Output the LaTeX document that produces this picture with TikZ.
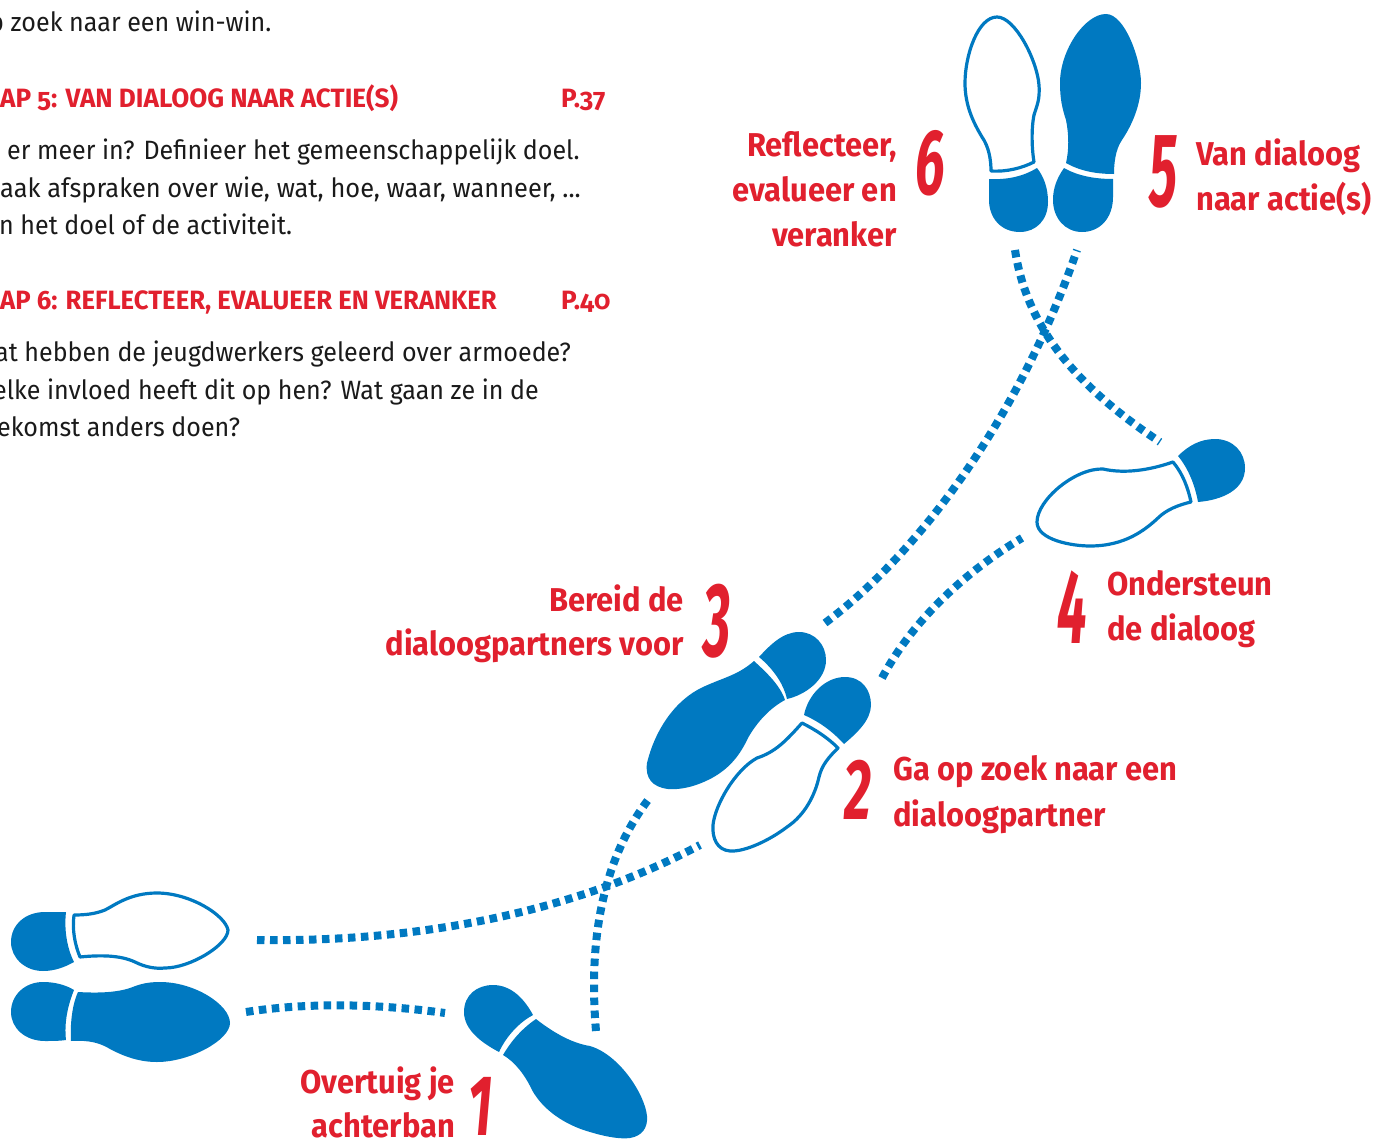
\documentclass[tikz,border=0pt]{standalone}
\usepackage{fontspec}
\setmainfont{Fira Sans}[FakeStretch=0.945,Numbers=OldStyle]
\newfontfamily\headfont{Fira Sans}[FakeStretch=0.985,Numbers=OldStyle]
\newfontfamily\labelfont{Fira Sans}[FakeStretch=0.935,Numbers=OldStyle]
\newfontfamily\digitfont{Fira Sans}[FakeStretch=0.62]
\definecolor{shoeblue}{HTML}{0079C1}
\definecolor{stepred}{HTML}{E1202E}
\definecolor{bodyink}{HTML}{1A1A1A}
\tikzset{
  solid shoe/.style={fill=shoeblue,draw=none},
  open shoe/.style={draw=shoeblue,line width=3.2pt,fill=white,line join=round},
  trail/.style={draw=shoeblue,line width=8pt,dash pattern=on 7.5pt off 5.5pt},
  body text/.style={anchor=base west,inner sep=0pt,text=bodyink,font=\fontsize{26.5}{30}\selectfont},
  head text/.style={anchor=base west,inner sep=0pt,text=stepred,font=\fontsize{26.5}{30}\selectfont\headfont\bfseries},
  label left/.style={anchor=base west,inner sep=0pt,text=stepred,font=\fontsize{33}{38}\selectfont\labelfont\bfseries},
  label right/.style={anchor=base east,inner sep=0pt,text=stepred,font=\fontsize{33}{38}\selectfont\labelfont\bfseries},
  digit/.style={anchor=center,inner sep=0pt,text=stepred,font=\fontsize{86}{90}\selectfont\digitfont\bfseries\itshape},
}
\begin{document}
\begin{tikzpicture}[x=1pt,y=-1pt]
\useasboundingbox (0,0) rectangle (1377,1140);
\clip (0,0) rectangle (1377,1140);
% page text
\node[body text] (t1) at (-11,32) {p zoek naar een win-win.};
\node[head text] (h5) at (0,107) {AP 5: VAN DIALOOG NAAR ACTIE(S)};
\node[head text] (p5) at (561,107) {P.37};
\node[body text] (t2) at (7,159) {er meer in? Definieer het gemeenschappelijk doel.};
\node[body text] (t3) at (0,197) {\scalebox{1.014}[1]{aak afspraken over wie, wat, hoe, waar, wanneer, ...}};
\node[body text] (t4) at (-1,234) {n het doel of de activiteit.};
\node[head text] (h6) at (0,309) {\scalebox{0.984}[1]{AP 6: REFLECTEER, EVALUEER EN VERANKER}};
\node[head text] (p6) at (561,309) {P.40};
\node[body text] (t5) at (-5,361) {at hebben de jeugdwerkers geleerd over armoede?};
\node[body text] (t6) at (-7,399) {elke invloed heeft dit op hen? Wat gaan ze in de};
\node[body text] (t7) at (-3,436) {ekomst anders doen?};
% trail ends
\coordinate (a1) at (596,1031); \coordinate (a2) at (648,800);
\coordinate (b1) at (246,1012); \coordinate (b2) at (445,1013);
\coordinate (c1) at (257,940);  \coordinate (c2) at (700,845);
\coordinate (d1) at (825,623);  \coordinate (d2) at (1077,250);
\coordinate (e1) at (1015,250); \coordinate (e2) at (1160,442);
\coordinate (f1) at (882,678);  \coordinate (f2) at (1022,538);
\draw[trail] (a1) .. controls (590,960) and (595,870) .. (a2);
\draw[trail] (b1) .. controls (310,1002) and (380,1004) .. (b2);
\draw[trail] (c1) .. controls (380,942) and (550,925) .. (c2);
\draw[trail] (d1) .. controls (910,560) and (1015,430) .. (d2);
\draw[trail] (e1) .. controls (1028,335) and (1085,392) .. (e2);
\draw[trail] (f1) .. controls (910,625) and (960,575) .. (f2);
% shoe 6
\draw[open shoe] (997,17) .. controls (978,17) and (965,55) .. (965,83) .. controls (965,105) and (973,122) .. (982,137) .. controls (989,147) and (991,160) .. (991,171) .. controls (1007,172) and (1022,168) .. (1034,162) .. controls (1032,150) and (1031,130) .. (1034,115) .. controls (1037,105) and (1040,100) .. (1039,85) .. controls (1037,60) and (1015,17) .. (997,17) -- cycle;
\fill[solid shoe] (989,179) .. controls (1008,180) and (1024,176) .. (1037,168) .. controls (1044,177) and (1048,188) .. (1048,202) .. controls (1048,220) and (1036,232) .. (1020,232) .. controls (1000,232) and (989,217) .. (989,200) -- cycle;
% shoe 5
\fill[solid shoe] (1106,14) .. controls (1125,14) and (1141,60) .. (1141,83) .. controls (1141,105) and (1132,125) .. (1122,140) .. controls (1115,150) and (1114,165) .. (1114,174) .. controls (1096,174) and (1080,171) .. (1066,163) .. controls (1069,150) and (1069,135) .. (1066,120) .. controls (1062,108) and (1060,98) .. (1060,83) .. controls (1060,50) and (1085,14) .. (1106,14) -- cycle;
\fill[solid shoe] (1064,168) .. controls (1078,176) and (1095,179) .. (1113,179) -- (1113,197) .. controls (1113,218) and (1100,232) .. (1082,232) .. controls (1065,232) and (1053,218) .. (1053,200) .. controls (1053,188) and (1057,178) .. (1064,168) -- cycle;
% shoe 4
\draw[open shoe] (1173,462) .. controls (1183,474) and (1188,488) .. (1191,502) .. controls (1178,505) and (1166,510) .. (1158,518) .. controls (1145,530) and (1125,546) .. (1090,546) .. controls (1072,546) and (1037,540) .. (1037,522) .. controls (1037,500) and (1075,468) .. (1103,469) .. controls (1125,474) and (1150,470) .. (1173,462) -- cycle;
\fill[solid shoe] (1178,456) .. controls (1188,446) and (1200,439) .. (1215,439) .. controls (1233,439) and (1245,452) .. (1245,468) .. controls (1245,490) and (1222,500) .. (1198,502) .. controls (1195,485) and (1188,468) .. (1178,456) -- cycle;
% shoe 3
\fill[solid shoe] (754,661) .. controls (766,672) and (780,685) .. (785,700) .. controls (770,708) and (757,722) .. (748,738) .. controls (740,755) and (730,768) .. (712,778) .. controls (695,787) and (680,790) .. (668,789) .. controls (652,787) and (645,778) .. (647,763) .. controls (655,730) and (675,700) .. (703,687) .. controls (725,677) and (738,675) .. (754,661) -- cycle;
\fill[solid shoe] (759,657) .. controls (770,645) and (783,632) .. (799,632) .. controls (815,632) and (826,645) .. (826,660) .. controls (826,680) and (805,695) .. (787,699) .. controls (783,682) and (772,668) .. (759,657) -- cycle;
% shoe 2
\draw[open shoe] (802,723) .. controls (816,730) and (828,738) .. (838,748) .. controls (828,758) and (822,765) .. (819,777) .. controls (815,795) and (805,815) .. (787,827) .. controls (770,840) and (745,852) .. (730,851) .. controls (717,850) and (712,838) .. (713,825) .. controls (715,805) and (735,770) .. (757,758) .. controls (775,752) and (785,742) .. (802,723) -- cycle;
\fill[solid shoe] (804,715) .. controls (808,695) and (825,677) .. (845,677) .. controls (862,677) and (871,690) .. (871,705) .. controls (871,720) and (857,733) .. (844,744) .. controls (833,732) and (820,722) .. (804,715) -- cycle;
% upper left shoe
\draw[open shoe] (74,915) .. controls (72,930) and (75,945) .. (80,957) .. controls (100,955) and (120,955) .. (135,962) .. controls (145,967) and (155,969) .. (165,968) .. controls (190,968) and (228,945) .. (228,930) .. controls (225,915) and (190,893) .. (157,893) .. controls (130,893) and (115,905) .. (105,910) .. controls (95,914) and (85,915) .. (74,915) -- cycle;
\fill[solid shoe] (66,912) .. controls (64,930) and (67,948) .. (74,962) .. controls (65,967) and (55,971) .. (43,971) .. controls (25,971) and (11,958) .. (11,942) .. controls (11,925) and (25,912) .. (45,912) -- cycle;
% lower left shoe
\fill[solid shoe] (78,992) .. controls (72,1005) and (70,1025) .. (71,1041) .. controls (90,1040) and (100,1043) .. (110,1049) .. controls (125,1057) and (140,1062) .. (157,1062) .. controls (190,1062) and (230,1040) .. (230,1023) .. controls (230,1005) and (195,982) .. (160,982) .. controls (145,982) and (138,985) .. (130,988) .. controls (115,993) and (95,993) .. (78,992) -- cycle;
\fill[solid shoe] (74,990) .. controls (68,1005) and (64,1022) .. (66,1040) .. controls (60,1041) and (50,1041) .. (45,1041) .. controls (25,1041) and (11,1028) .. (11,1012) .. controls (11,995) and (25,982) .. (43,982) .. controls (55,982) and (66,985) .. (74,990) -- cycle;
% shoe 1
\fill[solid shoe] (536,1019) .. controls (520,1030) and (510,1043) .. (503,1055) .. controls (515,1062) and (525,1075) .. (532,1090) .. controls (543,1110) and (565,1125) .. (590,1132) .. controls (610,1138) and (622,1139) .. (630,1138) .. controls (642,1136) and (648,1128) .. (647,1116) .. controls (645,1095) and (620,1055) .. (590,1046) .. controls (570,1043) and (550,1030) .. (536,1019) -- cycle;
\fill[solid shoe] (533,1015) .. controls (520,1022) and (507,1035) .. (499,1052) .. controls (482,1043) and (464,1030) .. (464,1012) .. controls (464,995) and (477,985) .. (493,985) .. controls (512,985) and (525,1000) .. (533,1015) -- cycle;
% labels
\node[label right] (l6a) at (897,156) {Reflecteer,};
\node[label right] (l6b) at (897,201) {evalueer en};
\node[label right] (l6c) at (897,246) {veranker};
\node[label left] (l5a) at (1196,165) {Van dialoog};
\node[label left] (l5b) at (1196,210) {naar actie(s)};
\node[label right] (l3a) at (684,611) {Bereid de};
\node[label right] (l3b) at (684,655) {dialoogpartners voor};
\node[label left] (l4a) at (1107,595) {Ondersteun};
\node[label left] (l4b) at (1107,640) {de dialoog};
\node[label left] (l2a) at (893,780) {Ga op zoek naar een};
\node[label left] (l2b) at (893,826) {dialoogpartner};
\node[label right] (l1a) at (455,1093) {Overtuig je};
\node[label right] (l1b) at (455,1137) {achterban};
% digits
\node[digit] (d6) at (930,163) {\scalebox{1}[1.08]{6}};
\node[digit] (d5) at (1164,172) {\scalebox{1}[1.22]{5}};
\node[digit] (d3) at (717,621) {\scalebox{1}[1.22]{3}};
\node[digit] (d4) at (1072,607) {\scalebox{1}[1.22]{4}};
\node[digit] (d2) at (858,790) {2};
\node[digit] (d1n) at (481,1106) {1};
\end{tikzpicture}
\end{document}
